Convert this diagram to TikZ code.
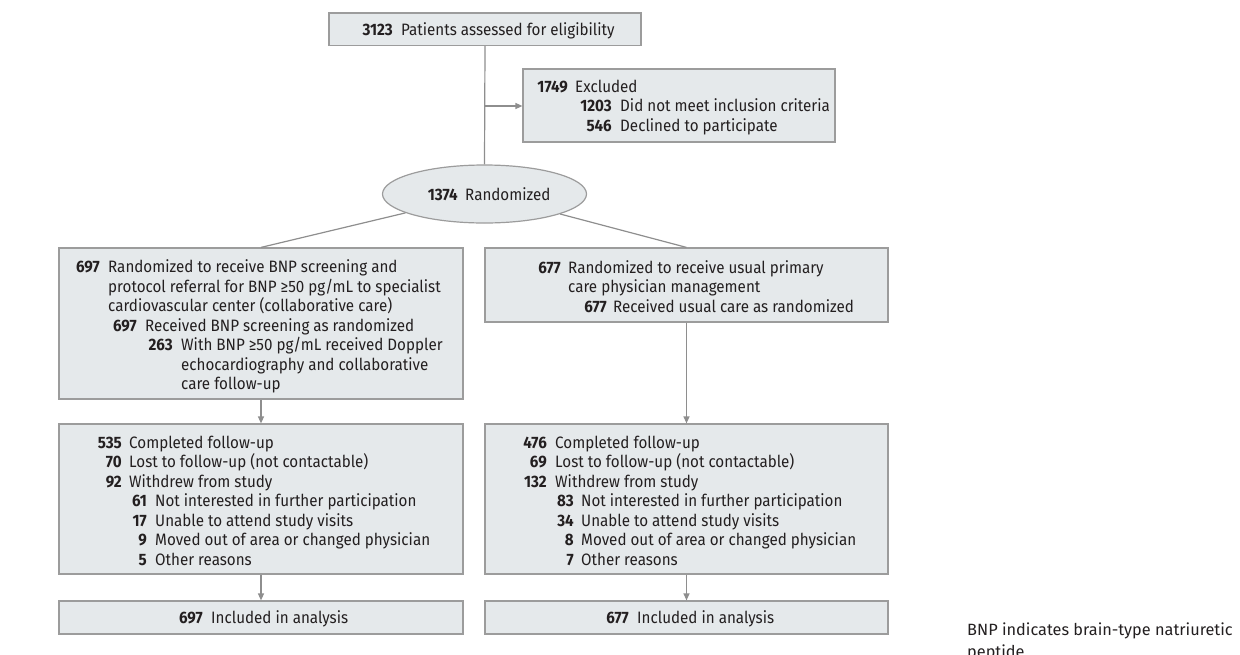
\documentclass[tikz,border=0pt]{standalone}
\usepackage{fontspec}
\setmainfont{Fira Sans}
\newfontfamily\boxfont[FakeStretch=0.92]{Fira Sans}
\newfontfamily\notefont{Fira Sans}
\usetikzlibrary{arrows.meta,shapes.geometric}
\definecolor{boxfill}{HTML}{E5E9EB}
\definecolor{boxline}{HTML}{9C9C9C}
\definecolor{connline}{HTML}{8E8E8E}
\definecolor{inktext}{HTML}{231F20}
\tikzset{
  flowbox/.style={draw=boxline, fill=boxfill, line width=1.2pt, inner sep=0pt},
  numlbl/.style={font=\boxfont\fontsize{16.5}{19.5}\selectfont\bfseries, text=inktext, inner sep=0pt, anchor=base east},
  txtlbl/.style={font=\boxfont\fontsize{16.5}{19.5}\selectfont, text=inktext, inner sep=0pt, anchor=base west},
  notelbl/.style={font=\notefont\fontsize{16.3}{22}\selectfont, text=inktext, inner sep=0pt, anchor=base west},
  conn/.style={draw=connline, line width=1.2pt},
  arr/.style={conn, -{Triangle[length=7pt,width=6pt]}},
}
\begin{document}
\begin{tikzpicture}[x=1pt,y=-1pt]
\useasboundingbox (0,0) rectangle (1240,654);
% boxes
\node[flowbox, minimum width=312pt, minimum height=32.5pt] (top) at (485,29.25) {};
\node[flowbox, minimum width=312pt, minimum height=73pt] (excl) at (679,105.5) {};
\node[flowbox, ellipse, minimum width=204pt, minimum height=58pt] (rand) at (484.5,194) {};
\node[flowbox, minimum width=404pt, minimum height=151pt] (lb1) at (261,323.5) {};
\node[flowbox, minimum width=403pt, minimum height=74pt] (rb1) at (686.5,285) {};
\node[flowbox, minimum width=404pt, minimum height=150pt] (lb2) at (261,499) {};
\node[flowbox, minimum width=403pt, minimum height=150pt] (rb2) at (686.5,499) {};
\node[flowbox, minimum width=404pt, minimum height=33pt] (lb3) at (261,617.5) {};
\node[flowbox, minimum width=403pt, minimum height=33pt] (rb3) at (686.5,617.5) {};
% connectors
\coordinate (branch) at (485,106);
\draw[conn] (top.south) -- (rand.north);
\draw[arr] (branch) -- (excl.west |- branch);
\draw[conn] (rand) -- (lb1.north);
\draw[conn] (rand) -- (rb1.north);
\draw[arr] (lb1.south) -- (lb2.north);
\draw[arr] (rb1.south) -- (rb2.north);
\draw[arr] (lb2.south) -- (lb3.north);
\draw[arr] (rb2.south) -- (rb3.north);
% top
\node[numlbl] (n0) at (393,35) {3123};
\node[txtlbl] (t0) at (401,35) {Patients assessed for eligibility};
% excluded
\node[numlbl] (ne1) at (568,92.3) {1749};
\node[txtlbl] (te1) at (575,92.3) {Excluded};
\node[numlbl] (ne2) at (612,111.8) {1203};
\node[txtlbl] (te2) at (620,111.8) {Did not meet inclusion criteria};
\node[numlbl] (ne3) at (612,131.3) {546};
\node[txtlbl] (te3) at (620,131.3) {Declined to participate};
% randomized
\node[numlbl] (nr) at (458,200) {1374};
\node[txtlbl] (tr) at (465,200) {Randomized};
% left box 1
\node[numlbl] (nl1) at (100,272.7) {697};
\node[txtlbl] (tl1) at (108,272.7) {Randomized to receive BNP screening and};
\node[txtlbl] (tl2) at (108,292.2) {protocol referral for BNP ≥50 pg/mL to specialist};
\node[txtlbl] (tl3) at (108,311.7) {cardiovascular center (collaborative care)};
\node[numlbl] (nl4) at (137,331.2) {697};
\node[txtlbl] (tl4) at (145,331.2) {Received BNP screening as randomized};
\node[numlbl] (nl5) at (173,350.7) {263};
\node[txtlbl] (tl5) at (181,350.7) {With BNP ≥50 pg/mL received Doppler};
\node[txtlbl] (tl6) at (181,370.2) {echocardiography and collaborative};
\node[txtlbl] (tl7) at (181,389.7) {care follow-up};
% right box 1
\node[numlbl] (nr1) at (561,273.3) {677};
\node[txtlbl] (tr1) at (568,273.3) {Randomized to receive usual primary};
\node[txtlbl] (tr2) at (568,292.8) {care physician management};
\node[numlbl] (nr3) at (607,312.3) {677};
\node[txtlbl] (tr3) at (613,312.3) {Received usual care as randomized};
% left box 2
\node[numlbl] (nm1) at (122,448.3) {535};
\node[txtlbl] (tm1) at (129,448.3) {Completed follow-up};
\node[numlbl] (nm2) at (122,467.8) {70};
\node[txtlbl] (tm2) at (129,467.8) {Lost to follow-up (not contactable)};
\node[numlbl] (nm3) at (122,487.2) {92};
\node[txtlbl] (tm3) at (129,487.2) {Withdrew from study};
\node[numlbl] (nm4) at (147,506.7) {61};
\node[txtlbl] (tm4) at (155,506.7) {Not interested in further participation};
\node[numlbl] (nm5) at (147,526.1) {17};
\node[txtlbl] (tm5) at (155,526.1) {Unable to attend study visits};
\node[numlbl] (nm6) at (147,545.6) {9};
\node[txtlbl] (tm6) at (155,545.6) {Moved out of area or changed physician};
\node[numlbl] (nm7) at (147,565) {5};
\node[txtlbl] (tm7) at (155,565) {Other reasons};
% right box 2
\node[numlbl] (np1) at (547,448.3) {476};
\node[txtlbl] (tp1) at (555,448.3) {Completed follow-up};
\node[numlbl] (np2) at (547,467.8) {69};
\node[txtlbl] (tp2) at (555,467.8) {Lost to follow-up (not contactable)};
\node[numlbl] (np3) at (547,487.2) {132};
\node[txtlbl] (tp3) at (555,487.2) {Withdrew from study};
\node[numlbl] (np4) at (574,506.7) {83};
\node[txtlbl] (tp4) at (581,506.7) {Not interested in further participation};
\node[numlbl] (np5) at (574,526.1) {34};
\node[txtlbl] (tp5) at (581,526.1) {Unable to attend study visits};
\node[numlbl] (np6) at (574,545.6) {8};
\node[txtlbl] (tp6) at (581,545.6) {Moved out of area or changed physician};
\node[numlbl] (np7) at (574,565) {7};
\node[txtlbl] (tp7) at (581,565) {Other reasons};
% bottom boxes
\node[numlbl] (nb1) at (203,623.3) {697};
\node[txtlbl] (tb1) at (211,623.3) {Included in analysis};
\node[numlbl] (nb2) at (629,623.3) {677};
\node[txtlbl] (tb2) at (637,623.3) {Included in analysis};
% footnote
\node[notelbl] (fn1) at (967,635) {BNP indicates brain-type natriuretic};
\node[notelbl] (fn2) at (967,657) {peptide};
\end{tikzpicture}
\end{document}
